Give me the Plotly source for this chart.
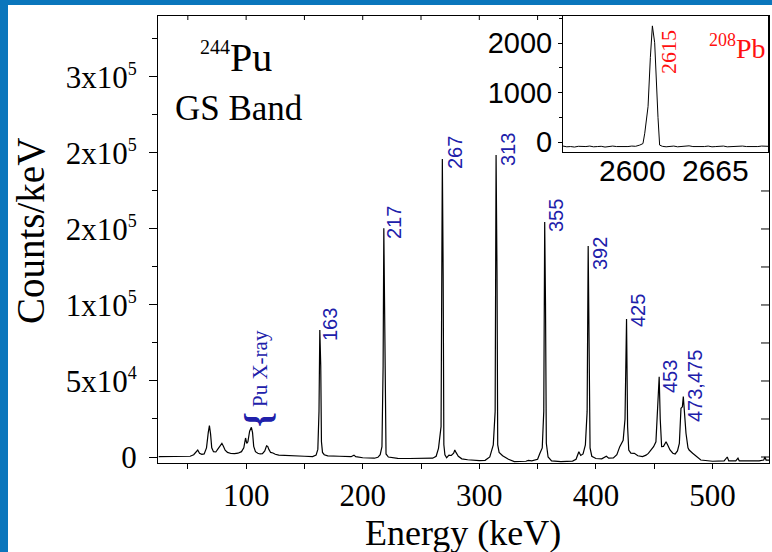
import plotly.graph_objects as go

# ---------------- data ----------------
energy = [25, 40, 52, 55, 57, 58.5, 60, 62, 64, 66, 67.5, 68.5, 69.5, 70.5, 72, 74, 76, 78, 79.2, 80.5,
          82, 84, 87, 90, 93, 96, 98, 99.5, 100.5, 101.5, 103, 104.5, 105.5, 106.5, 108, 110, 112, 114,
          116, 117.5, 118.5, 119.5, 121, 123, 125, 128, 132, 140, 150, 157, 160, 161.5, 162.5, 163.2,
          164.0, 164.6, 165.5, 167, 170, 180, 190, 192.5, 194, 200, 210, 213, 215, 216.5, 217.5, 218.1,
          218.7, 219.3, 220, 222, 230, 240, 250, 260, 263, 265, 267.2, 268.3, 269.0, 269.6, 270.5, 272,
          274, 276, 278, 279, 280, 282, 285, 290, 300, 305, 309, 310.5, 312, 313.6, 314.4, 315.2, 315.8,
          317, 320, 325, 330, 340, 342, 345, 350, 352, 354, 355.3, 356.1, 356.8, 357.5, 359, 362, 370,
          380, 383, 385.4, 387, 389, 391, 392.5, 393.4, 394.2, 395, 396.5, 400, 405, 409, 411, 415, 418,
          420.5, 423.4, 425, 426.3, 427.2, 428.2, 430, 433, 436, 440, 443, 445, 448, 449.5, 451.5, 453,
          454.3, 455.2, 456.4, 458, 460.2, 461.5, 463.6, 466, 468, 470, 471.6, 473, 474.2, 475.0, 476,
          477.3, 479, 480, 483, 486.4, 490, 500, 510, 512.7, 514, 520, 521.9, 523, 530, 540, 544, 545,
          546, 549]
counts = [200, 300, 500, 1500, 3500, 4600, 2500, 1800, 2000, 6000, 16000, 20600, 15000, 6000, 3500,
          3300, 5500, 8000, 9000, 7000, 4500, 3000, 2300, 2200, 2500, 3500, 6000, 12500, 9000, 10000,
          17000, 19500, 16000, 7000, 3500, 2500, 2000, 2200, 4000, 7400, 7000, 5000, 3000, 2600, 1800,
          1200, 1000, 800, 500, 300, 1200, 5000, 30000, 83500, 60000, 10000, 3000, 1500, 800, 500, 200,
          1200, 200, -500, -800, -200, 1500, 6800, 60000, 150500, 100000, 8000, 2000, 0, -900, -1000,
          -1100, -800, 500, 5700, 20000, 196000, 120000, 8000, 1500, -500, 1200, 1000, 2500, 4600, 3000,
          500, -1200, -1800, -2400, -2200, 0, 4600, 8000, 30000, 198700, 120000, 8000, 3000, 800, -1500,
          -3000, -2800, -2200, -2600, -1500, 2500, 6000, 30000, 154600, 100000, 9000, 0, -2500, -3000,
          -2700, -1500, 3500, 1000, 2000, 8000, 30000, 138800, 80000, 6000, 500, -1000, -1200, 500,
          -800, -600, 1500, 6800, 11000, 25000, 90800, 20000, 4600, 2500, 2400, 800, 300, 1200, 2400,
          5000, 6800, 10000, 30000, 52800, 25000, 6800, 7000, 10000, 8000, 4600, 2500, 2000, 4000, 9000,
          32000, 33000, 39700, 30000, 15600, 6000, 4600, 2500, 200, -2000, -2800, -2600, 0, -2600, -2600,
          -800, -2600, -2700, -2600, -2000, 0, -2000, -2000]

inset_energy = [2546, 2549, 2552, 2555, 2558, 2561, 2564, 2567, 2570, 2573, 2576, 2579, 2582, 2585,
                2588, 2591, 2594, 2597, 2600, 2603, 2606.3, 2608.8, 2610.2, 2612.8, 2614.6, 2616.2,
                2618.0, 2619.3, 2620.6, 2621.9, 2624, 2627, 2630, 2633, 2636, 2639, 2642, 2645, 2648,
                2651, 2654, 2657, 2660, 2663, 2666, 2669, 2672, 2675, 2678, 2681, 2684, 2687, 2690,
                2693, 2696, 2699, 2702, 2705, 2707]
inset_counts = [-80, -95, -90, -100, -85, -95, -90, -80, -95, -90, -85, -100, -90, -80, -90, -95, -85,
                -90, -80, -85, -60, -30, 180, 720, 1710, 2350, 2010, 1130, 500, -60, -85, -95, -90, -80,
                -95, -90, -85, -75, -90, -95, -85, -90, -80, -95, -90, -85, -80, -95, -90, -85, -95,
                -80, -90, -95, -85, -90, -80, -90, -85]

peak_labels = ["163", "217", "267", "313", "355", "392", "425", "453", "473,475"]

x_tickvals = [100, 200, 300, 400, 500]
y_tickvals = [0, 50000, 100000, 150000, 200000, 250000]
sup = '<sup><span style="font-size:18px">{}</span></sup>'
y_ticktext = ["0", "5x10" + sup.format(4), "1x10" + sup.format(5), "2x10" + sup.format(5),
              "2x10" + sup.format(5), "3x10" + sup.format(5)]
# inside ticks of the top / right frame edges (the rest is hidden by the inset)
top_tickvals = [50, 100, 150, 200, 250, 300, 350]
right_tickvals = [0, 25000, 50000, 75000, 100000, 125000, 150000, 175000]
inset_x_ticktext = ["2600", "2665"]
inset_y_tickvals = [0, 1000, 2000]
inset_y_ticktext = ["0", "1000", "2000"]

# ---------------- layout geometry ----------------
W, H = 772, 552
L, R, T, B = 158, 769, 16, 463
IL, IR, IT, IB = 563, 768, 16, 152   # inset box


def px(x):
    return (x - L) / (R - L)


def py(y):
    return (B - y) / (B - T)


SERIF = "Liberation Serif"
SANS = "Liberation Sans"
BLUE = "#2020aa"
RED = "#ff1010"

fig = go.Figure()
fig.add_trace(go.Scatter(x=energy, y=counts, mode="lines",
                         line=dict(color="black", width=1.2), showlegend=False, hoverinfo="skip"))
fig.add_trace(go.Scatter(x=inset_energy, y=inset_counts, mode="lines", xaxis="x3", yaxis="y3",
                         line=dict(color="black", width=1), showlegend=False, hoverinfo="skip"))

xr = [24.4, 548.5]
yr = [-3950, 290100]

fig.update_layout(
    width=W, height=H, autosize=False,
    margin=dict(l=L, r=W - R, t=T, b=H - B, pad=0),
    paper_bgcolor="white", plot_bgcolor="white",
    font=dict(family=SERIF, color="black"),
    xaxis=dict(range=xr, domain=[0, 1], anchor="y", showgrid=False, zeroline=False, automargin=False,
               showline=True, mirror=True, linecolor="black", linewidth=1,
               tickvals=x_tickvals, ticks="outside", ticklen=5, tickwidth=1, tickcolor="black",
               minor=dict(dtick=50, tick0=0, ticks="outside", ticklen=5, tickwidth=1,
                          tickcolor="black"),
               tickfont=dict(family=SERIF, size=31, color="black"), ticklabelstandoff=0),
    yaxis=dict(range=yr, domain=[0, 1], anchor="x", showgrid=False, zeroline=False, automargin=False,
               showline=True, mirror=True, linecolor="black", linewidth=1,
               tickvals=y_tickvals, ticktext=y_ticktext, ticks="outside", ticklen=8, tickwidth=1,
               tickcolor="black",
               minor=dict(dtick=25000, tick0=0, ticks="outside", ticklen=5, tickwidth=1,
                          tickcolor="black"),
               tickfont=dict(family=SERIF, size=31, color="black"), ticklabelstandoff=6),
    xaxis3=dict(range=[2546, 2707], domain=[px(IL), px(IR)], anchor="y3", showgrid=False,
                zeroline=False, automargin=False, showline=True, mirror=True, linecolor="black",
                linewidth=1, ticks="", showticklabels=False),
    yaxis3=dict(range=[-200, 2550], domain=[py(IB), py(IT)], anchor="x3", showgrid=False,
                zeroline=False, automargin=False, showline=True, mirror=True, linecolor="black",
                linewidth=1, tickvals=inset_y_tickvals, ticktext=inset_y_ticktext,
                ticks="outside", ticklen=4, tickwidth=1, tickcolor="black",
                minor=dict(dtick=500, tick0=0, ticks="outside", ticklen=3, tickcolor="black"),
                tickfont=dict(family=SANS, size=29, color="black"), ticklabelstandoff=0),
)

LINE = dict(color="black", width=1)

# inside ticks on the top and right frame edges
for v in top_tickvals:
    fig.add_shape(type="line", xref="x", yref="paper", x0=v, x1=v, y0=1, y1=1 - 4 / (B - T),
                  line=LINE, layer="above")
for v in right_tickvals:
    fig.add_shape(type="line", xref="paper", yref="y", x0=1, x1=1 - 8 / (R - L), y0=v, y1=v,
                  line=LINE, layer="above")

# slide-style blue bands (left and top)
band = "#0a76bc"
fig.add_shape(type="rect", xref="paper", yref="paper", x0=px(0), x1=px(8), y0=py(H), y1=py(0),
              fillcolor=band, line_width=0, layer="above")
fig.add_shape(type="rect", xref="paper", yref="paper", x0=px(0), x1=px(W), y0=py(5), y1=py(0),
              fillcolor=band, line_width=0, layer="above")


def ann(text, x, y, size, color="black", family=SERIF, angle=0):
    fig.add_annotation(text=text, x=px(x), y=py(y), xref="paper", yref="paper",
                       xanchor="center", yanchor="middle", showarrow=False, textangle=angle,
                       font=dict(family=family, size=size, color=color), borderpad=0)


# axis titles
ann("Counts/keV", 30, 231, 39, angle=-90)
ann("Energy (keV)", 463, 533, 36)

# top-left title
ann('<sup><span style="font-size:20px">244</span></sup>Pu', 236, 58, 40)
ann("GS Band", 239, 108, 35)

# peak labels
label_pos = [(330, 325), (394, 223), (455, 153), (508, 150), (556, 216), (600, 254),
             (638, 311), (670, 377), (695, 386)]
for lab, (lx, ly) in zip(peak_labels, label_pos):
    ann(lab, lx, ly, 20, color=BLUE, family=SANS, angle=-90)

ann("Pu X-ray", 260, 369, 21, color=BLUE, angle=-90)
ann("<b>{</b>", 258, 420, 38, color=BLUE, angle=-90)

# inset energy labels (under the inset box)
for lab, lx in zip(inset_x_ticktext, [632, 715]):
    ann(lab, lx, 170, 30, family=SANS)

# inset labels
ann("2615", 668, 52, 22, color=RED, angle=-90)
ann('<sup><span style="font-size:18px">208</span></sup>Pb', 737, 47, 28, color=RED)

fig.write_html("out.html")
